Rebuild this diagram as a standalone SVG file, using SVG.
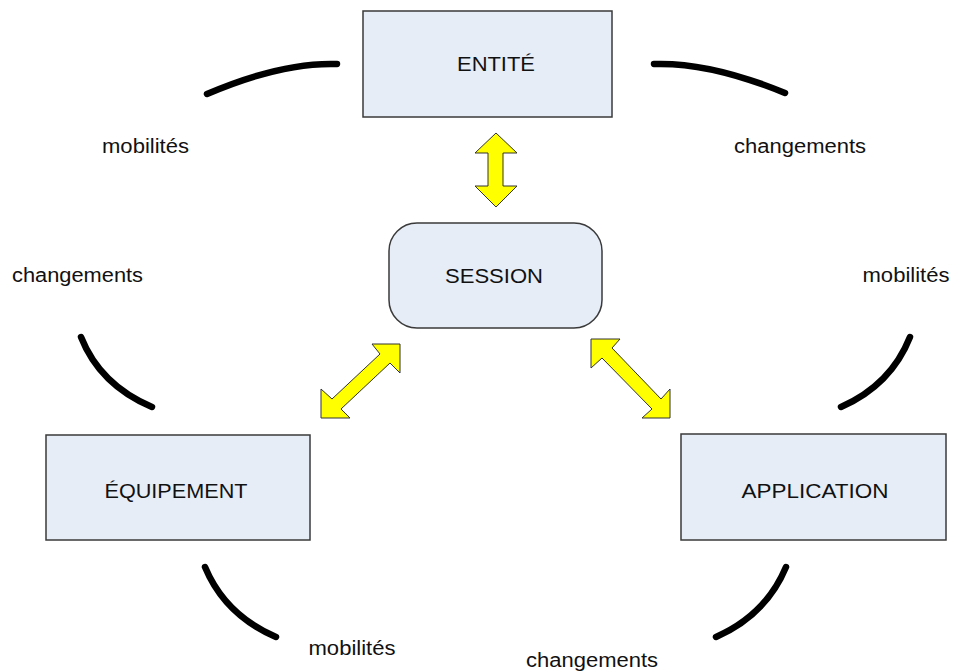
<svg xmlns="http://www.w3.org/2000/svg" width="953" height="672" viewBox="0 0 953 672">
<style>
.box{fill:#e7edf7;stroke:#3a3a3a;stroke-width:1.5}
.t{font-family:"Liberation Sans",Arial,sans-serif;font-size:20px;fill:#111;text-anchor:middle}
.arc{fill:none;stroke:#000;stroke-width:6.5;stroke-linecap:round}
.arr{fill:#ffff00;stroke:#333;stroke-width:1;stroke-linejoin:miter}
</style>
<rect width="953" height="672" fill="#fff"/>
<g id="entite"><rect class="box" x="363" y="11" width="249" height="106"/><text class="t" x="496" y="71" textLength="78" lengthAdjust="spacingAndGlyphs">ENTITÉ</text></g>
<g id="session"><rect class="box" x="389" y="223" width="213" height="105" rx="28" ry="28"/><text class="t" x="494" y="283" textLength="98" lengthAdjust="spacingAndGlyphs">SESSION</text></g>
<g id="equipement"><rect class="box" x="46" y="435" width="264" height="105"/><text class="t" x="176" y="498" textLength="143" lengthAdjust="spacingAndGlyphs">ÉQUIPEMENT</text></g>
<g id="application"><rect class="box" x="681" y="434" width="265" height="106"/><text class="t" x="815" y="498" textLength="147" lengthAdjust="spacingAndGlyphs">APPLICATION</text></g>
<g id="connectors">
<path class="arr" d="M496,133 L517,153 L503,153 L503,186 L517,186 L496,207 L475,186 L488,186 L488,153 L475,153 Z"/>
<path class="arr" d="M400,344 L400,373 L390,363 L341,409 L350,418 L321,418 L321,389 L332,399 L380,354 L372,344 Z"/>
<path class="arr" d="M591,339 L620,339 L612,348 L661,399 L670,389 L670,418 L642,418 L652,409 L602,358 L591,368 Z"/>
<path class="arc" d="M207,94 Q282,62 337,64"/>
<path class="arc" d="M785,93 Q710,62 654,64"/>
<path class="arc" d="M81,337 Q100,385 152,407"/>
<path class="arc" d="M910,337 Q891,385 841,407"/>
<path class="arc" d="M205,567 Q225,615 276,637"/>
<path class="arc" d="M786,567 Q766,615 716,637"/>
</g>
<g id="labels">
<text class="t" x="145.5" y="153" textLength="87" lengthAdjust="spacingAndGlyphs">mobilités</text>
<text class="t" x="800" y="153" textLength="132" lengthAdjust="spacingAndGlyphs">changements</text>
<text class="t" x="77.5" y="282" textLength="131" lengthAdjust="spacingAndGlyphs">changements</text>
<text class="t" x="906" y="282" textLength="87" lengthAdjust="spacingAndGlyphs">mobilités</text>
<text class="t" x="352" y="655" textLength="87" lengthAdjust="spacingAndGlyphs">mobilités</text>
<text class="t" x="592" y="667" textLength="132" lengthAdjust="spacingAndGlyphs">changements</text>
</g>
</svg>
